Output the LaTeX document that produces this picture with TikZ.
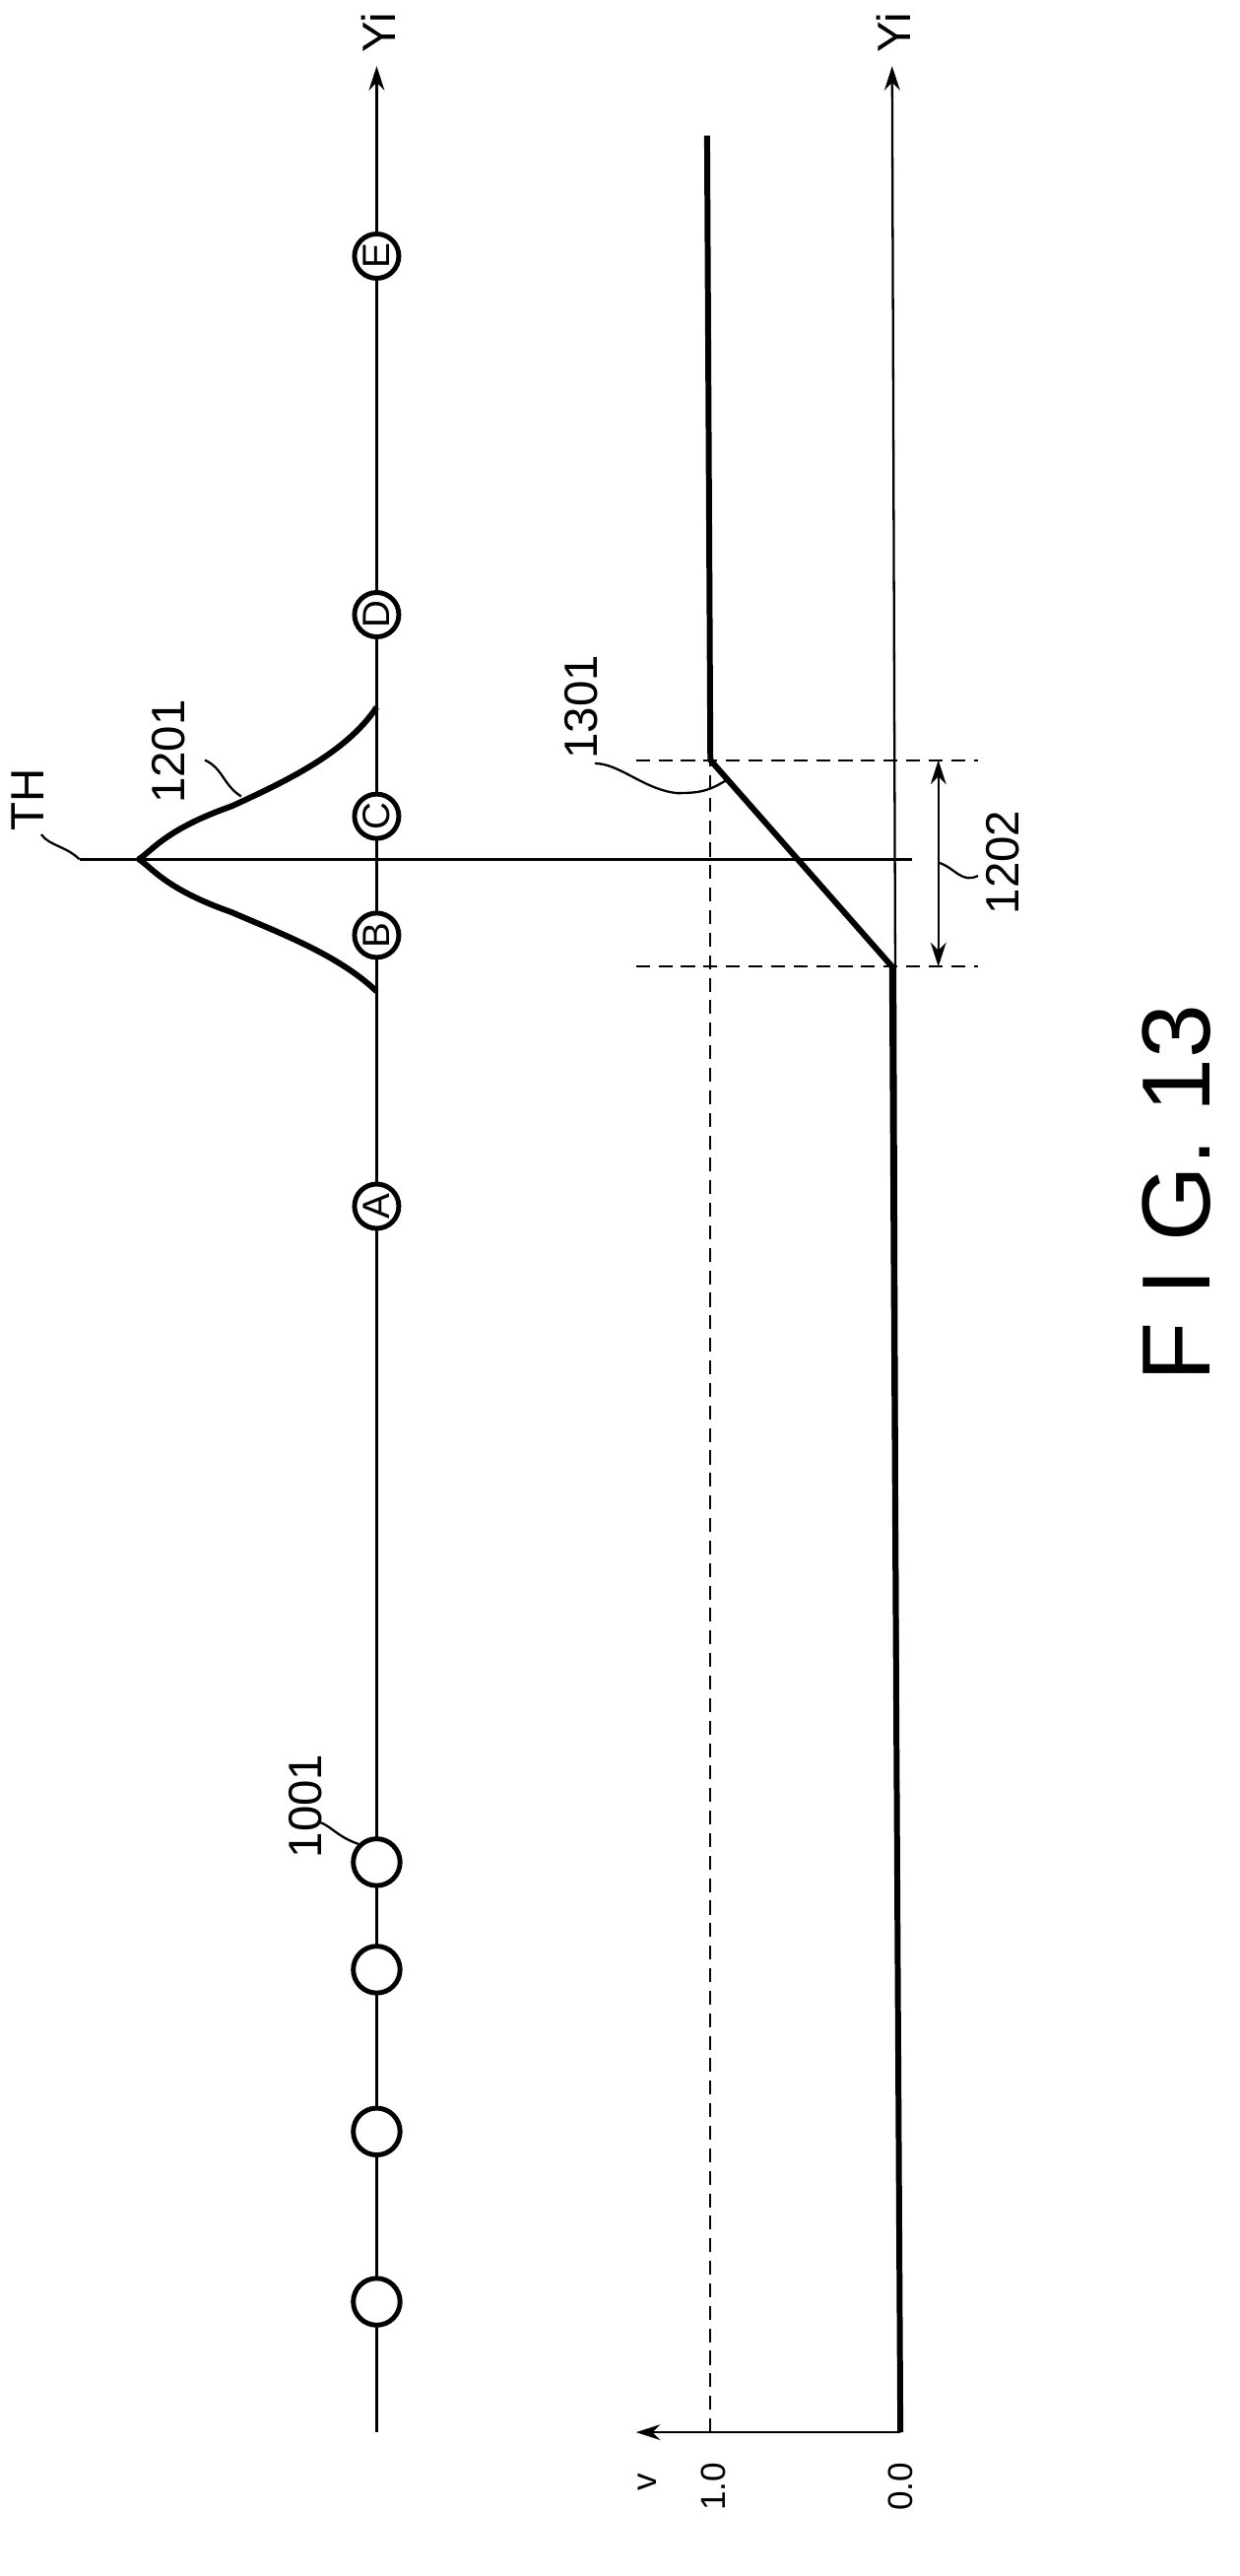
\documentclass[tikz,border=0pt]{standalone}
\usepackage{fontspec}
\setmainfont{Liberation Sans}
\usetikzlibrary{arrows.meta}
\begin{document}
\begin{tikzpicture}[x=0.03354cm,y=-0.03354cm,
  thinl/.style={line width=1.3pt},
  thick2/.style={line width=3.4pt},
  dashl/.style={line width=1.2pt,dash pattern=on 8pt off 5pt},
  pt/.style={circle,draw,line width=2.8pt,minimum size=0.95cm,inner sep=0pt,fill=white},
  lp/.style={circle,draw,line width=2.8pt,minimum size=0.9cm,inner sep=0pt,fill=white,font=\fontsize{22}{22}\selectfont,rotate=90},
  lbl/.style={font=\fontsize{27}{27}\selectfont,rotate=90,inner sep=1pt},
  arr/.style={-{Stealth[length=14pt,width=9pt]}}]
\useasboundingbox (0,0) rectangle (750,1559);
% top axis
\coordinate (t0) at (228,1472);
\node[lbl] (yi1) at (229,20) {Yi};
\draw[thinl,arr] (t0) -- (228,40);
% TH line
\coordinate (th0) at (48,520);
\coordinate (th1) at (552,520);
\draw[line width=1.6pt] (th0) -- (th1);
\node[lbl] (th) at (17,484) {TH};
\draw[thinl] (th0) .. controls (40,512) and (30,512) .. (25,505);
% curve 1201
\draw[thick2,line join=round] (228,600) .. controls (205,578) and (170,565) .. (140,552)
  .. controls (100,538) and (92,525) .. (84,520)
  .. controls (92,515) and (100,502) .. (140,488)
  .. controls (175,472) and (210,455) .. (228,428);
\node[lbl] (n1201) at (102,455) {1201};
\draw[thinl] (146,482) .. controls (135,475) and (135,465) .. (124,460);
% circles
\foreach \n/\y in {p1/1393,p2/1290,p3/1192,p4/1127}{\node[pt] (\n) at (228,\y) {};}
\node[lp] (A) at (228,730) {A};
\node[lp] (B) at (228,566) {B};
\node[lp] (C) at (228,494) {C};
\node[lp] (D) at (228,372) {D};
\node[lp] (E) at (228,155) {E};
\node[lbl] (n1001) at (185,1093) {1001};
\draw[thinl] (p4.north west) .. controls (205,1112) and (200,1105) .. (194,1103);
% lower axes
\coordinate (o) at (545,1472);
\draw[thinl,arr] (o) -- (385,1472);
\draw[thinl,arr] (o) -- (540,40);
\node[lbl] (yi2) at (541,20) {Yi};
\node[lbl,font=\fontsize{20}{20}\selectfont] (v) at (392,1502) {v};
\node[lbl,font=\fontsize{20}{20}\selectfont] (l10) at (432,1505) {1.0};
\node[lbl,font=\fontsize{20}{20}\selectfont] (l00) at (545,1505) {0.0};
% dashed
\draw[dashl] (430,1472) -- (430,460);
\draw[dashl] (385,460) -- (592,460);
\draw[dashl] (385,585) -- (592,585);
% signal
\draw[thick2,line join=round] (545,1472) -- (540,585) -- (430,460) -- (428,82);
% 1202
\draw[thinl,{Stealth[length=14pt,width=9pt]}-{Stealth[length=14pt,width=9pt]}] (568,460) -- (568,585);
\node[lbl] (n1202) at (607,522) {1202};
\draw[thinl] (568,522) .. controls (578,525) and (582,535) .. (592,530);
% 1301
\node[lbl] (n1301) at (352,428) {1301};
\draw[thinl] (360,462) .. controls (375,462) and (390,478) .. (410,480) .. controls (425,480) and (430,478) .. (440,472);
% title
\node[font=\fontsize{56}{56}\selectfont,rotate=90] (fig) at (712,722) {F I G. 13};
\end{tikzpicture}
\end{document}
